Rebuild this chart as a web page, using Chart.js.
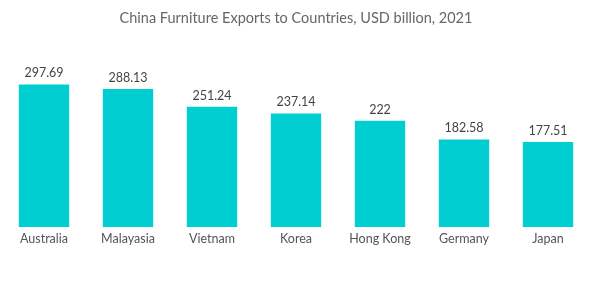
<!DOCTYPE html>
<html>
<head>
<meta charset="utf-8">
<script src="https://cdn.jsdelivr.net/npm/chart.js@4"></script>
<style>
  html, body { margin: 0; padding: 0; background: #fff; }
  #wrap { width: 600px; height: 302px; }
</style>
</head>
<body>
<div id="wrap"><canvas id="chart" width="600" height="302"></canvas></div>
<script>
// données
const countries = ['Australia', 'Malayasia', 'Vietnam', 'Korea', 'Hong Kong', 'Germany', 'Japan'];
const exportValues = [297.69, 288.13, 251.24, 237.14, 222, 182.58, 177.51];
const valueLabels = ['297.69', '288.13', '251.24', '237.14', '222', '182.58', '177.51'];

// petit plugin pour écrire la valeur au-dessus de chaque barre
const barValues = {
  id: 'barValues',
  afterDatasetsDraw(chart) {
    const ctx = chart.ctx;
    const meta = chart.getDatasetMeta(0);
    ctx.save();
    ctx.font = '12.5px Lato, "Noto Sans", sans-serif';
    ctx.fillStyle = '#444';
    ctx.textAlign = 'center';
    ctx.textBaseline = 'bottom';
    meta.data.forEach((bar, i) => {
      ctx.fillText(valueLabels[i], bar.x, bar.y - 5);
    });
    ctx.restore();
  },
};

new Chart(document.getElementById('chart'), {
  type: 'bar',
  data: {
    labels: countries,
    datasets: [
      {
        data: exportValues,
        backgroundColor: 'rgb(0, 206, 209)',
        barPercentage: 0.6,
        categoryPercentage: 1,
      },
    ],
  },
  options: {
    responsive: false,
    animation: false,
    layout: { padding: { left: 2, right: 10, top: 0, bottom: 52 } },
    plugins: {
      legend: { display: false },
      tooltip: { enabled: false },
      title: {
        display: true,
        text: 'China Furniture Exports to Countries, USD billion, 2021',
        color: '#666',
        font: { family: 'Lato, "Noto Sans", sans-serif', size: 14.5, weight: 'normal' },
        padding: { top: 10, bottom: 56 },
      },
    },
    scales: {
      x: {
        grid: { display: false, drawTicks: false },
        border: { display: false },
        ticks: {
          color: '#555',
          padding: 4,
          font: { family: 'Lato, "Noto Sans", sans-serif', size: 12.5 },
        },
      },
      y: {
        display: false,
        min: 0,
        max: 300,
      },
    },
  },
  plugins: [barValues],
});
</script>
</body>
</html>
